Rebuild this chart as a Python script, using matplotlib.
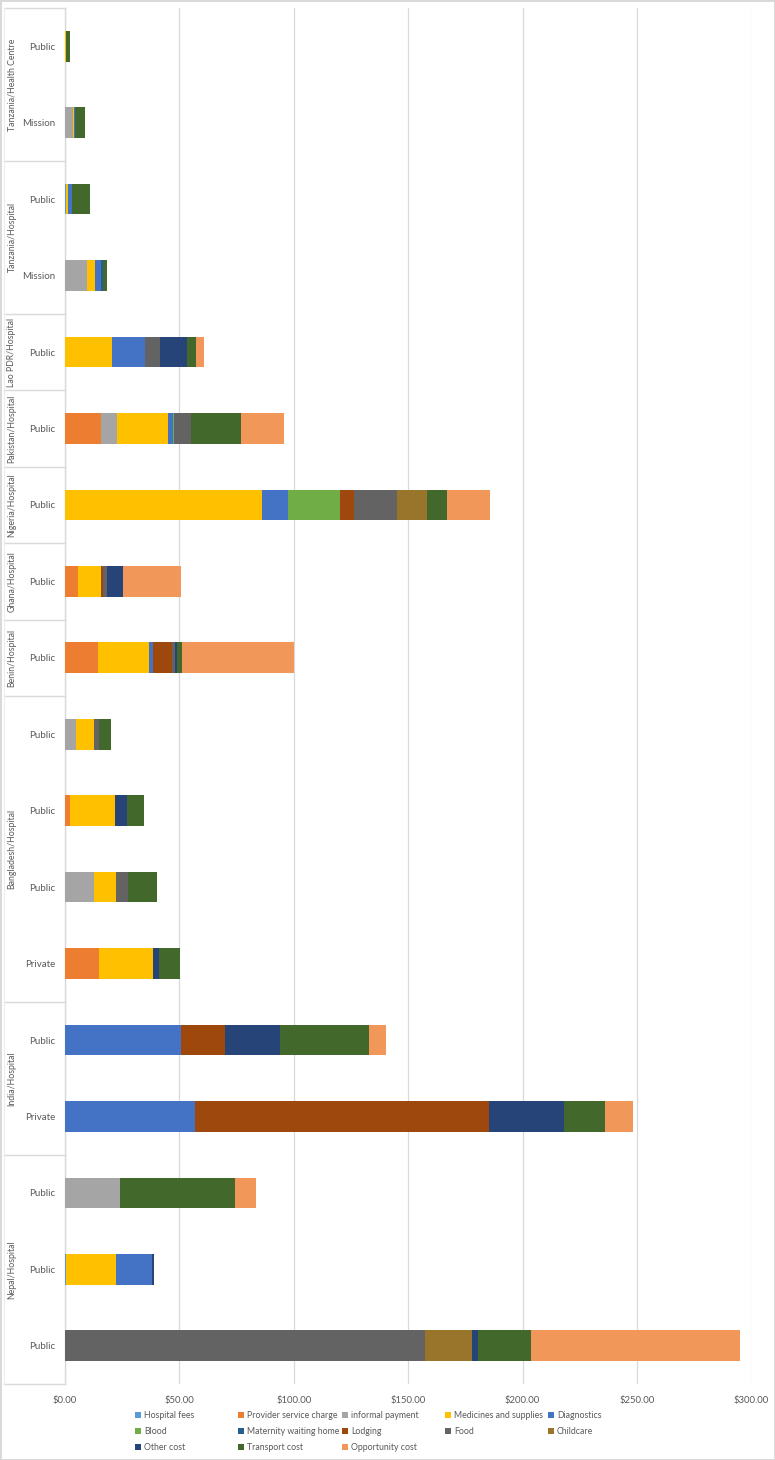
import matplotlib
matplotlib.use("Agg")
import matplotlib.pyplot as plt
from matplotlib.patches import Rectangle
from matplotlib.lines import Line2D
import matplotlib.transforms as mtransforms
import numpy as np

plt.rcParams['font.family'] = ['Lato', 'DejaVu Sans']

# categories listed top to bottom as they appear
groups = ["Tanzania/Health Centre", "Tanzania/Hospital", "Lao PDR/Hospital", "Pakistan/Hospital",
          "Nigeria/Hospital", "Ghana/Hospital", "Benin/Hospital", "Bangladesh/Hospital",
          "India/Hospital", "Nepal/Hospital"]
group_sizes = [2, 2, 1, 1, 1, 1, 1, 4, 2, 3]
categories = ["Public", "Mission", "Public", "Mission", "Public", "Public", "Public", "Public",
              "Public", "Public", "Public", "Public", "Private", "Public", "Private",
              "Public", "Public", "Public"]

series_names = ["Hospital fees", "Provider service charge", "informal payment",
                "Medicines and supplies", "Diagnostics", "Blood", "Maternity waiting home",
                "Lodging", "Food", "Childcare", "Other cost", "Transport cost", "Opportunity cost"]
colors = ["#5B9BD5", "#ED7D31", "#A5A5A5", "#FFC000", "#4472C4", "#70AD47", "#255E91",
          "#9E480E", "#636363", "#98752B", "#264478", "#43682B", "#F1975A"]

hospital_fees = [0, 0, 0.3, 0, 0, 0, 0, 0, 0, 0, 0, 0, 0, 0, 0, 0, 0.4, 0]
provider_service_charge = [0, 0, 0, 0, 0, 15.9, 0, 5.8, 14.6, 0, 2.2, 0, 14.9, 0, 0, 0, 0, 0]
informal_payment = [0, 3.6, 0, 9.5, 0, 7.0, 0, 0, 0, 4.8, 0, 12.5, 0, 0, 0, 24.0, 0, 0]
medicines = [0.3, 0.3, 1.2, 3.8, 20.7, 22.3, 86.1, 9.8, 22.0, 7.7, 19.5, 9.9, 23.4, 0, 0, 0, 21.9, 0]
diagnostics = [0, 0.6, 1.7, 2.4, 14.3, 2.0, 11.4, 0, 1.7, 0, 0, 0, 0, 50.6, 56.6, 0, 15.9, 0]
blood = [0, 0, 0, 0, 0, 0.3, 22.7, 0, 0, 0, 0, 0, 0, 0, 0, 0, 0, 0]
maternity_waiting_home = [0, 0, 0, 0.8, 0, 0, 0, 0, 0, 0, 0, 0, 0, 0, 0, 0, 0, 0]
lodging = [0, 0, 0, 0, 0, 0, 6.1, 0.9, 8.5, 0, 0, 0, 0, 19.2, 128.6, 0, 0, 0]
food = [0, 0, 0, 0, 6.7, 7.4, 18.7, 1.7, 1.4, 2.4, 0, 5.1, 0, 0, 0, 0, 0, 157.5]
childcare = [0, 0, 0, 0, 0, 0, 13.2, 0, 0, 0, 0, 0, 0, 0, 0, 0, 0, 20.3]
other_cost = [0, 0, 0, 0, 11.6, 0, 0, 7.0, 0.6, 0, 5.5, 0, 2.8, 24.2, 33.0, 0, 0.7, 2.8]
transport_cost = [1.9, 4.2, 7.9, 1.8, 3.8, 22.2, 8.8, 0, 2.2, 5.1, 7.2, 12.7, 9.2, 38.9, 17.7, 50.5, 0, 22.9]
opportunity_cost = [0, 0, 0, 0, 3.5, 18.6, 18.9, 25.6, 49.1, 0, 0, 0, 0, 7.5, 12.3, 9.1, 0, 91.6]

series = [hospital_fees, provider_service_charge, informal_payment, medicines, diagnostics,
          blood, maternity_waiting_home, lodging, food, childcare, other_cost,
          transport_cost, opportunity_cost]

xticks = [0, 50, 100, 150, 200, 250, 300]
xtick_labels = ["$0.00", "$50.00", "$100.00", "$150.00", "$200.00", "$250.00", "$300.00"]

W, H = 775, 1460
fig = plt.figure(figsize=(W / 100, H / 100), dpi=100)
fig.patch.set_edgecolor("#D9D9D9")
fig.patch.set_linewidth(1.0)

ax_left, ax_right, ax_top, ax_bottom = 65, 751.4, 8, 1384
ax = fig.add_axes([ax_left / W, 1 - ax_bottom / H, (ax_right - ax_left) / W, (ax_bottom - ax_top) / H])

n = len(categories)
ypos = np.arange(n)[::-1]  # first category at top
left = np.zeros(n)
for name, vals, c in zip(series_names, series, colors):
    v = np.array(vals, dtype=float)
    ax.barh(ypos, v, left=left, height=0.4, color=c, label=name, zorder=3)
    left += v

ax.set_xlim(0, 300)
ax.set_ylim(-0.5, n - 0.5)
ax.set_xticks(xticks)
ax.set_xticklabels(xtick_labels, fontsize=6.8, color="#595959")
ax.tick_params(axis='x', length=0, pad=9)
ax.set_yticks(ypos)
ax.set_yticklabels(categories, fontsize=7, color="#595959")
ax.tick_params(axis='y', length=0, pad=7)
ax.grid(axis='x', color="#D9D9D9", linewidth=0.9, zorder=0)
for s in ["top", "right", "bottom"]:
    ax.spines[s].set_visible(False)
ax.spines["left"].set_color("#D9D9D9")
ax.spines["left"].set_linewidth(1.0)

# multi-level category axis: group labels and separators
trans = mtransforms.blended_transform_factory(fig.transFigure, ax.transData)
x_l = 4 / W
x_r = ax_left / W
boundaries = [n - 0.5]
idx = 0
for g, size in zip(groups, group_sizes):
    top_y = n - 0.5 - idx
    bot_y = top_y - size
    boundaries.append(bot_y)
    ax.text(12 / W, (top_y + bot_y) / 2, g, transform=trans, rotation=90, ha='center', va='center',
            fontsize=6.3, color="#595959", clip_on=False)
    idx += size
for b in boundaries:
    ax.add_line(Line2D([x_l, x_r], [b, b], transform=trans, color="#D9D9D9", linewidth=1.0, clip_on=False))
ax.add_line(Line2D([x_l, x_l], [-0.5, n - 0.5], transform=trans, color="#EDEDED", linewidth=0.8, clip_on=False))

# legend (manual, 5 columns x 3 rows)
col_x = [135, 238, 342, 445, 548]
row_y = [1415, 1431, 1447]
for i, (name, c) in enumerate(zip(series_names, colors)):
    r, k = divmod(i, 5)
    x = col_x[k]
    y = row_y[r]
    fig.add_artist(Rectangle((x / W, 1 - (y + 3) / H), 6 / W, 6 / H, transform=fig.transFigure,
                             facecolor=c, edgecolor='none'))
    fig.text((x + 9) / W, 1 - y / H, name, fontsize=6.3, color="#595959", ha='left', va='center')

fig.savefig("out.png", dpi=100)
